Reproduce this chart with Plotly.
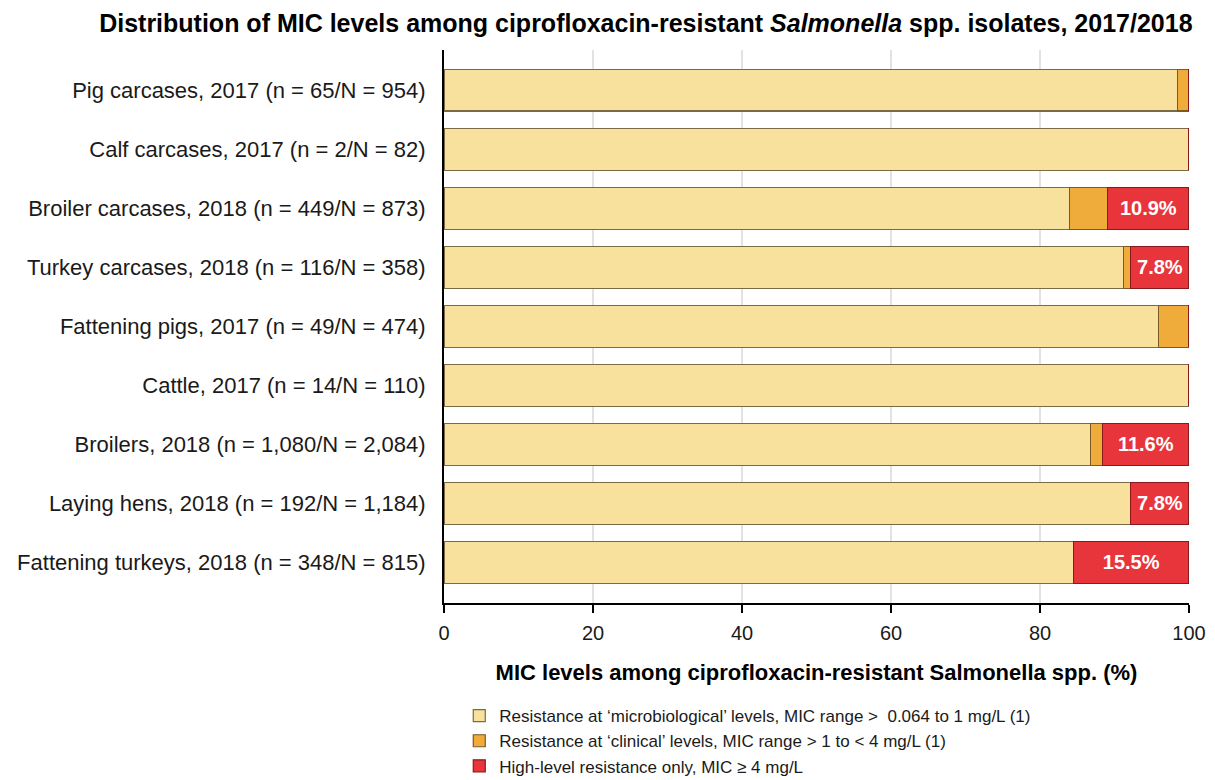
import plotly.graph_objects as go

FONT = "Liberation Sans, Arial, sans-serif"

categories = [
    "Pig carcases, 2017 (n = 65/N = 954)",
    "Calf carcases, 2017 (n = 2/N = 82)",
    "Broiler carcases, 2018 (n = 449/N = 873)",
    "Turkey carcases, 2018 (n = 116/N = 358)",
    "Fattening pigs, 2017 (n = 49/N = 474)",
    "Cattle, 2017 (n = 14/N = 110)",
    "Broilers, 2018 (n = 1,080/N = 2,084)",
    "Laying hens, 2018 (n = 192/N = 1,184)",
    "Fattening turkeys, 2018 (n = 348/N = 815)",
]

microbiological = [98.5, 100.0, 84.0, 91.2, 95.9, 100.0, 86.8, 92.2, 84.5]
clinical = [1.5, 0.0, 5.1, 1.0, 4.1, 0.0, 1.6, 0.0, 0.0]
high_level = [0.0, 0.0, 10.9, 7.8, 0.0, 0.0, 11.6, 7.8, 15.5]

series_names = [
    "Resistance at \u2018microbiological\u2019 levels, MIC range >  0.064 to 1 mg/L (1)",
    "Resistance at \u2018clinical\u2019 levels, MIC range > 1 to < 4 mg/L (1)",
    "High-level resistance only, MIC \u2265 4 mg/L",
]
colors = ["#F7E19C", "#F0AC3A", "#E8343B"]
borders = ["#7A6A45", "#7A5A25", "#8A1A1A"]

fig = go.Figure()
for name, vals, col, bcol in zip(series_names, [microbiological, clinical, high_level], colors, borders):
    is_red = col == "#E8343B"
    fig.add_trace(go.Bar(
        name=name,
        y=categories,
        x=vals,
        orientation="h",
        width=0.71,
        marker=dict(color=col, line=dict(color=bcol, width=1.2)),
        text=[f"{v:.1f}%" if (is_red and v > 0) else "" for v in vals],
        textposition="inside",
        insidetextanchor="middle",
        textfont=dict(family=FONT, size=20, color="white", weight="bold"),
        textangle=0,
        hovertemplate="%{y}<br>%{x:.1f}%<extra></extra>",
    ))

# page has an 8px body margin, so the figure is sized/placed to compensate
fig.update_layout(
    barmode="stack",
    width=1199, height=772,
    plot_bgcolor="white", paper_bgcolor="white",
    font=dict(family=FONT, size=18, color="#1a1a1a"),
    margin=dict(l=436, r=18, t=42, b=177, autoexpand=False),
    title=dict(
        text="<b>Distribution of MIC levels among ciprofloxacin-resistant <i>Salmonella</i> spp. isolates, 2017/2018</b>",
        font=dict(family=FONT, size=25, color="black"),
        x=0.532, xanchor="center", y=0.992, yanchor="top",
    ),
    legend=dict(
        orientation="v", x=0.0205, xanchor="left", y=-0.172, yanchor="top",
        xref="paper", yref="paper",
        font=dict(family=FONT, size=17, color="#1a1a1a"),
        traceorder="normal", itemwidth=30, tracegroupgap=0,
        bgcolor="rgba(0,0,0,0)",
    ),
    showlegend=True,
    uniformtext=dict(mode="show", minsize=10),
)

fig.update_xaxes(
    range=[0, 100], tickvals=[0, 20, 40, 60, 80, 100],
    automargin=False,
    showgrid=True, gridcolor="#E2E2E2", gridwidth=1.5,
    showline=True, linecolor="black", linewidth=2,
    ticks="outside", ticklen=8, tickwidth=2, tickcolor="black",
    ticklabelstandoff=3, ticklabeloverflow="allow",
    tickfont=dict(family=FONT, size=20, color="#1a1a1a"),
    zeroline=False,
    title=dict(text="<b>MIC levels among ciprofloxacin-resistant Salmonella spp. (%)</b>",
               font=dict(family=FONT, size=22, color="black"), standoff=22),
)
fig.update_yaxes(
    categoryorder="array", categoryarray=categories,
    range=[8.69, -0.68],
    automargin=False,
    showline=True, linecolor="black", linewidth=2,
    ticks="", ticklabelstandoff=12,
    tickfont=dict(family=FONT, size=22, color="#1a1a1a"),
    showgrid=False, zeroline=False,
)

fig.write_html("out.html")
